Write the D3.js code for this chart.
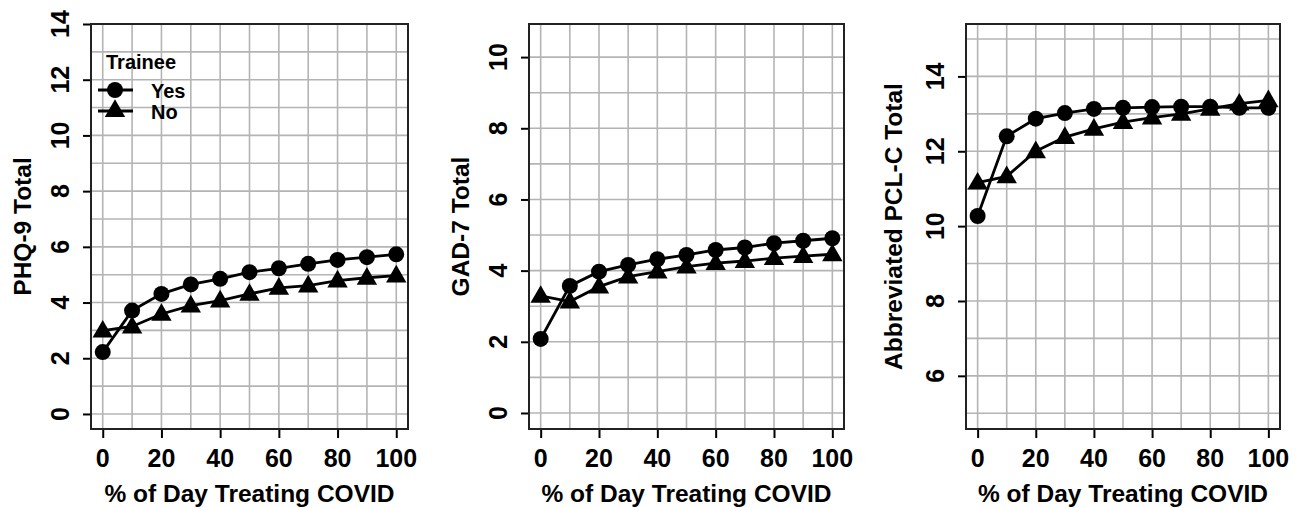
<!DOCTYPE html>
<html>
<head>
<meta charset="utf-8">
<script src="https://cdn.jsdelivr.net/npm/d3@7"></script>
<style>
  html, body { margin: 0; padding: 0; background: #fff; }
  svg { display: block; font-family: "Liberation Sans", Arial, sans-serif; font-weight: bold; }
</style>
</head>
<body>
<svg id="chart" width="1298" height="508"></svg>
<script>
// x values shared by every panel (% of day treating COVID)
const pctDay = [0, 10, 20, 30, 40, 50, 60, 70, 80, 90, 100]
const xTicks = [0, 20, 40, 60, 80, 100]

// PHQ-9
const phqYes = [2.22, 3.71, 4.31, 4.65, 4.85, 5.09, 5.23, 5.39, 5.53, 5.63, 5.73]
const phqNo = [2.99, 3.14, 3.59, 3.89, 4.07, 4.31, 4.53, 4.61, 4.79, 4.89, 4.97]
const phqTicks = [0, 2, 4, 6, 8, 10, 12, 14]

// GAD-7
const gadYes = [2.08, 3.57, 3.97, 4.16, 4.32, 4.44, 4.58, 4.65, 4.77, 4.84, 4.91]
const gadNo = [3.29, 3.13, 3.55, 3.83, 3.97, 4.11, 4.21, 4.27, 4.35, 4.41, 4.46]
const gadTicks = [0, 2, 4, 6, 8, 10]

// Abbreviated PCL-C
const pclYes = [10.27, 12.4, 12.87, 13.02, 13.13, 13.16, 13.18, 13.19, 13.19, 13.16, 13.16]
const pclNo = [11.16, 11.33, 12.0, 12.38, 12.6, 12.78, 12.9, 13.0, 13.13, 13.27, 13.36]
const pclTicks = [6, 8, 10, 12, 14]

const legendLabels = ['Yes', 'No']

const panels = [
  { title: 'PHQ-9 Total', yes: phqYes, no: phqNo, ticks: phqTicks, ydom: [-0.54, 14.0], box: [91, 408], titleOff: 69, legend: true },
  { title: 'GAD-7 Total', yes: gadYes, no: gadNo, ticks: gadTicks, ydom: [-0.45, 10.93], box: [529, 844], titleOff: 69 },
  { title: 'Abbreviated PCL-C Total', yes: pclYes, no: pclNo, ticks: pclTicks, ydom: [4.58, 15.4], box: [966, 1280], titleOff: 73 }
]

const plotTop = 24
const plotBottom = 429
const svg = d3.select('#chart')

const triangle = d3.symbol().type(d3.symbolTriangle).size(180)

panels.forEach((p) => {
  const x = d3.scaleLinear().domain([-4, 104]).range(p.box)
  const y = d3.scaleLinear().domain(p.ydom).range([plotBottom, plotTop])
  const g = svg.append('g')

  // grid: every 10 on x, every integer on y
  const yGrid = d3.range(Math.ceil(p.ydom[0]), Math.floor(p.ydom[1]) + 1)
  g.selectAll('.vgrid').data(pctDay).join('line')
    .attr('x1', (d) => x(d)).attr('x2', (d) => x(d))
    .attr('y1', plotTop).attr('y2', plotBottom)
    .attr('stroke', '#b4b4b4').attr('stroke-width', 1.6)
  g.selectAll('.hgrid').data(yGrid).join('line')
    .attr('y1', (d) => y(d)).attr('y2', (d) => y(d))
    .attr('x1', p.box[0]).attr('x2', p.box[1])
    .attr('stroke', '#b4b4b4').attr('stroke-width', 1.6)

  // axes
  const xAxis = d3.axisBottom(x).tickValues(xTicks).tickSize(9).tickFormat('')
  const yAxis = d3.axisLeft(y).tickValues(p.ticks).tickSize(8).tickFormat('')
  const xg = g.append('g').attr('transform', `translate(0,${plotBottom})`).call(xAxis)
  const yg = g.append('g').attr('transform', `translate(${p.box[0]},0)`).call(yAxis)
  xg.select('.domain').remove()
  yg.select('.domain').remove()
  xg.selectAll('.tick line').attr('stroke', '#000').attr('stroke-width', 2)
  yg.selectAll('.tick line').attr('stroke', '#000').attr('stroke-width', 2)

  g.selectAll('.xlab').data(xTicks).join('text')
    .attr('x', (d) => x(d)).attr('y', 466.5)
    .attr('text-anchor', 'middle').attr('font-size', 25).attr('fill', '#000')
    .text((d) => d)

  g.selectAll('.ylab').data(p.ticks).join('text')
    .attr('transform', (d) => `translate(${p.box[0] - 31},${y(d)}) rotate(-90)`)
    .attr('text-anchor', 'middle').attr('dy', '0.36em')
    .attr('font-size', 25).attr('fill', '#000')
    .text((d) => d)

  // axis titles
  g.append('text')
    .attr('x', (p.box[0] + p.box[1]) / 2).attr('y', 502)
    .attr('text-anchor', 'middle').attr('font-size', 24.5).attr('fill', '#000')
    .text('% of Day Treating COVID')
  g.append('text')
    .attr('transform', `translate(${p.box[0] - p.titleOff},${(plotTop + plotBottom) / 2}) rotate(-90)`)
    .attr('text-anchor', 'middle').attr('dy', '0.36em')
    .attr('font-size', 24.5).attr('fill', '#000')
    .text(p.title)

  // series
  const line = d3.line().x((d, i) => x(pctDay[i])).y((d) => y(d))
  ;[p.no, p.yes].forEach((vals) => {
    g.append('path').datum(vals)
      .attr('d', line).attr('fill', 'none')
      .attr('stroke', '#000').attr('stroke-width', 2.8)
  })
  g.selectAll('.tri').data(p.no).join('path')
    .attr('d', triangle)
    .attr('transform', (d, i) => `translate(${x(pctDay[i])},${y(d) + 1})`)
    .attr('fill', '#000')
  g.selectAll('.dot').data(p.yes).join('circle')
    .attr('cx', (d, i) => x(pctDay[i])).attr('cy', (d) => y(d))
    .attr('r', 8).attr('fill', '#000')

  // frame
  g.append('rect')
    .attr('x', p.box[0]).attr('y', plotTop)
    .attr('width', p.box[1] - p.box[0]).attr('height', plotBottom - plotTop)
    .attr('fill', 'none').attr('stroke', '#222').attr('stroke-width', 2)

  if (p.legend) {
    const lg = g.append('g')
    lg.append('text').attr('x', 106).attr('y', 68.5)
      .attr('font-size', 20).attr('fill', '#000').text('Trainee')
    legendLabels.forEach((lab, i) => {
      const ly = 90 + i * 21
      lg.append('line').attr('x1', 98).attr('x2', 133).attr('y1', ly).attr('y2', ly)
        .attr('stroke', '#000').attr('stroke-width', 2.8)
      if (i === 0) {
        lg.append('circle').attr('cx', 115).attr('cy', ly).attr('r', 8).attr('fill', '#000')
      } else {
        lg.append('path').attr('d', triangle).attr('transform', `translate(115,${ly})`).attr('fill', '#000')
      }
      lg.append('text').attr('x', 151).attr('y', ly + 8)
        .attr('font-size', 20).attr('fill', '#000').text(lab)
    })
  }
})
</script>
</body>
</html>
